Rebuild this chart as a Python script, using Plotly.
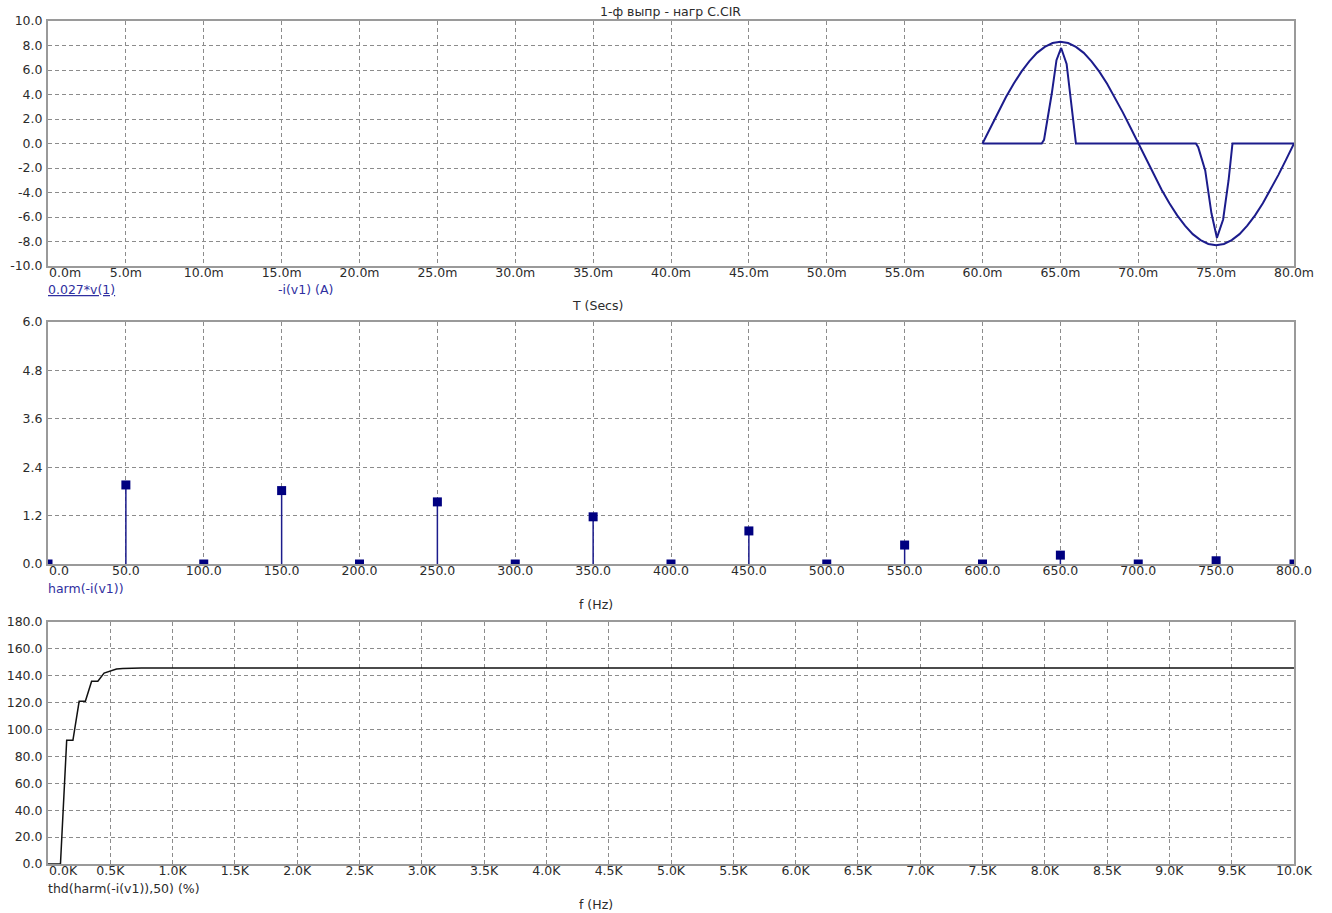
import plotly.graph_objects as go

# ---------------- data ----------------
# Top: transient (time in ms)
t_v = [60.0 + 0.5 * k for k in range(41)]
v_scaled = [0.00, 1.30, 2.56, 3.77, 4.88, 5.87, 6.71, 7.40, 7.89, 8.20, 8.30,
            8.20, 7.89, 7.40, 6.71, 5.87, 4.88, 3.77, 2.56, 1.30, 0.00,
            -1.30, -2.56, -3.77, -4.88, -5.87, -6.71, -7.40, -7.89, -8.20, -8.30,
            -8.20, -7.89, -7.40, -6.71, -5.87, -4.88, -3.77, -2.56, -1.30, 0.00]
t_i = [60.0, 63.8, 63.95, 64.15, 64.45, 64.75, 65.05, 65.4, 65.7, 66.0,
       73.7, 73.85, 74.3, 74.7, 75.05, 75.45, 75.8, 76.05, 80.0]
i_neg = [0.0, 0.0, 0.3, 1.7, 4.1, 6.8, 7.8, 6.5, 3.3, 0.0,
         0.0, -0.3, -2.2, -5.7, -7.7, -6.2, -3.0, 0.0, 0.0]

# Middle: harmonics
harm_f = [0, 50, 100, 150, 200, 250, 300, 350, 400, 450, 500, 550, 600, 650, 700, 750, 800]
harm_a = [0.0, 1.96, 0.0, 1.82, 0.0, 1.54, 0.0, 1.17, 0.0, 0.82, 0.0, 0.47, 0.0, 0.22, 0.0, 0.08, 0.0]

# Bottom: THD
thd_f = [0, 50, 100, 150, 200, 250, 300, 350, 400, 450, 500, 550, 600, 650, 700, 750, 800, 10000]
thd_v = [0.0, 0.0, 0.0, 92.0, 92.0, 121.0, 121.0, 136.0, 136.0, 142.0, 143.5, 145.0, 145.5,
         145.7, 145.7, 145.7, 145.7, 145.7]

# tick labels
top_xvals = [5 * k for k in range(17)]
top_xtext = ["0.0m", "5.0m", "10.0m", "15.0m", "20.0m", "25.0m", "30.0m", "35.0m", "40.0m",
             "45.0m", "50.0m", "55.0m", "60.0m", "65.0m", "70.0m", "75.0m", "80.0m"]
top_yvals = [-10, -8, -6, -4, -2, 0, 2, 4, 6, 8, 10]
top_ytext = ["-10.0", "-8.0", "-6.0", "-4.0", "-2.0", "0.0", "2.0", "4.0", "6.0", "8.0", "10.0"]
mid_xvals = [50 * k for k in range(17)]
mid_xtext = ["0.0", "50.0", "100.0", "150.0", "200.0", "250.0", "300.0", "350.0", "400.0",
             "450.0", "500.0", "550.0", "600.0", "650.0", "700.0", "750.0", "800.0"]
mid_yvals = [0, 1.2, 2.4, 3.6, 4.8, 6.0]
mid_ytext = ["0.0", "1.2", "2.4", "3.6", "4.8", "6.0"]
bot_xvals = [500 * k for k in range(21)]
bot_xtext = ["0.0K", "0.5K", "1.0K", "1.5K", "2.0K", "2.5K", "3.0K", "3.5K", "4.0K", "4.5K",
             "5.0K", "5.5K", "6.0K", "6.5K", "7.0K", "7.5K", "8.0K", "8.5K", "9.0K", "9.5K", "10.0K"]
bot_yvals = [0, 20, 40, 60, 80, 100, 120, 140, 160, 180]
bot_ytext = ["0.0", "20.0", "40.0", "60.0", "80.0", "100.0", "120.0", "140.0", "160.0", "180.0"]

# ---------------- figure ----------------
W, H = 1332, 913
FONT = "DejaVu Sans"
TXT = "#2b2b2b"
BLUE = "#1c1c8c"
FS = 12.5

fig = go.Figure()

fig.add_trace(go.Scatter(x=t_v, y=v_scaled, mode="lines", line=dict(color=BLUE, width=2),
                         xaxis="x", yaxis="y", showlegend=False, hoverinfo="skip"))
fig.add_trace(go.Scatter(x=t_i, y=i_neg, mode="lines", line=dict(color=BLUE, width=2),
                         xaxis="x", yaxis="y", showlegend=False, hoverinfo="skip"))

stem_x, stem_y = [], []
for f, a in zip(harm_f, harm_a):
    stem_x += [f, f, None]
    stem_y += [0, a, None]
fig.add_trace(go.Scatter(x=stem_x, y=stem_y, mode="lines", line=dict(color=BLUE, width=1.5),
                         xaxis="x2", yaxis="y2", showlegend=False, hoverinfo="skip"))
fig.add_trace(go.Scatter(x=harm_f, y=harm_a, mode="markers",
                         marker=dict(symbol="square", size=9, color="#000080"),
                         xaxis="x2", yaxis="y2", showlegend=False, hoverinfo="skip"))

fig.add_trace(go.Scatter(x=thd_f, y=thd_v, mode="lines", line=dict(color="#111111", width=1.5),
                         xaxis="x3", yaxis="y3", showlegend=False, hoverinfo="skip"))

x0, x1 = 48 / W, 1294 / W
def ydom(top, bot):
    return [1 - bot / H, 1 - top / H]

tickfont = dict(family=FONT, size=FS, color=TXT)
common = dict(showline=True, linecolor="#9a9a9a", linewidth=2, mirror=True,
              showgrid=True, gridcolor="#8c8c8c", gridwidth=1, griddash="4px,3px",
              zeroline=False, ticks="", tickfont=tickfont, tickmode="array",
              fixedrange=True, automargin=False)
xcommon = dict(ticklabelstandoff=-6, **common)
ycommon = dict(ticklabelstandoff=1, **common)

def rest(labels):
    # first label is drawn separately, left-aligned at the axis start
    return [""] + list(labels[1:])

fig.update_layout(
    width=W, height=H, autosize=False,
    margin=dict(l=0, r=0, t=0, b=0, autoexpand=False),
    paper_bgcolor="white", plot_bgcolor="white",
    font=dict(family=FONT, size=12, color=TXT),
    xaxis=dict(domain=[x0, x1], range=[0, 80], anchor="y", tickvals=top_xvals,
               ticktext=rest(top_xtext), **xcommon),
    yaxis=dict(domain=ydom(21, 266), range=[-10, 10], anchor="x", tickvals=top_yvals,
               ticktext=top_ytext, **ycommon),
    xaxis2=dict(domain=[x0, x1], range=[0, 800], anchor="y2", tickvals=mid_xvals,
                ticktext=rest(mid_xtext), **xcommon),
    yaxis2=dict(domain=ydom(322, 564), range=[0, 6], anchor="x2", tickvals=mid_yvals,
                ticktext=mid_ytext, **ycommon),
    xaxis3=dict(domain=[x0, x1], range=[0, 10000], anchor="y3", tickvals=bot_xvals,
                ticktext=rest(bot_xtext), **xcommon),
    yaxis3=dict(domain=ydom(622, 864), range=[0, 180], anchor="x3", tickvals=bot_yvals,
                ticktext=bot_ytext, **ycommon),
)

# first tick labels, left-aligned at their tick
for xr, yr, vals, texts in [("x", "y", top_xvals, top_xtext),
                            ("x2", "y2", mid_xvals, mid_xtext),
                            ("x3", "y3", bot_xvals, bot_xtext)]:
    fig.add_annotation(text=texts[0], x=vals[0], xref=xr, y=0, yref=yr + " domain",
                       xanchor="left", yanchor="top", yshift=3, xshift=-1, showarrow=False,
                       font=tickfont)

def ann(text, x, y, color=TXT, xanchor="center"):
    fig.add_annotation(text=text, x=x / W, y=1 - y / H, xref="paper", yref="paper",
                       showarrow=False, xanchor=xanchor, yanchor="middle",
                       font=dict(family=FONT, size=FS, color=color))

ann("1-ф выпр - нагр C.CIR", 670, 12)
ann("<u>0.027*v(1)</u>", 46, 289, color="#2f2fa0", xanchor="left")
ann("-i(v1) (A)", 276, 289, color="#2f2fa0", xanchor="left")
ann("T (Secs)", 597, 305)
ann("harm(-i(v1))", 46, 588, color="#2f2fa0", xanchor="left")
ann("f (Hz)", 596, 604)
ann("thd(harm(-i(v1)),50) (%)", 46, 888, xanchor="left")
ann("f (Hz)", 596, 904)

fig.write_html(
    "out.html",
    config={"displayModeBar": False, "staticPlot": True},
    post_script="document.body.style.margin='0';document.body.style.overflow='hidden';",
)
